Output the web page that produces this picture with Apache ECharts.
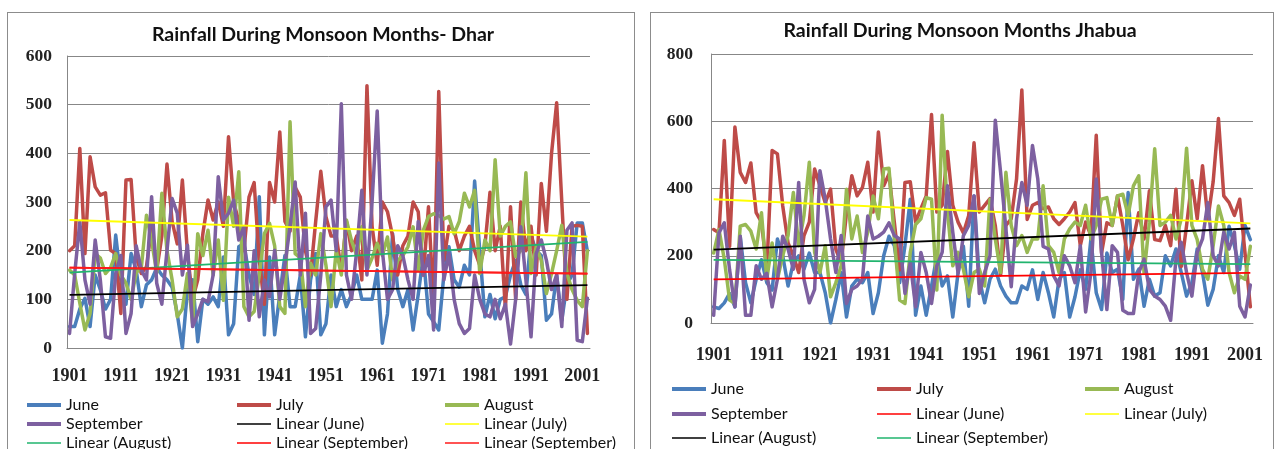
<!DOCTYPE html>
<html><head><meta charset="utf-8">
<script src="https://cdn.jsdelivr.net/npm/echarts@6/dist/echarts.min.js"></script>
<style>
html,body{margin:0;padding:0;background:#fff;width:1274px;height:449px;overflow:hidden;}
.box{position:absolute;border:1px solid #8c8c8c;box-sizing:border-box;}
#c1{position:absolute;left:0;top:0;width:640px;height:449px;}
#c2{position:absolute;left:640px;top:0;width:634px;height:449px;}
</style></head><body>
<div class="box" style="left:7px;top:12px;width:628px;height:460px;"></div>
<div class="box" style="left:650px;top:12px;width:624px;height:460px;"></div>
<div id="c1"></div><div id="c2"></div>
<script>
// categories
const years = [];
for (let y = 1901; y <= 2002; y++) years.push(String(y));

const seriesNames = ['June', 'July', 'August', 'September'];

// Dhar (mm)
const dharJune = [44,44,80,102,44,150,120,80,100,232,
140,90,194,160,85,130,140,165,150,140,
125,70,0,120,140,13,100,90,105,85,
187,27,50,208,215,150,110,311,27,187,
27,110,190,85,85,150,23,140,194,27,
50,150,85,120,85,110,150,100,100,100,
160,10,70,235,120,85,120,37,110,190,
70,54,37,150,208,140,125,170,150,343,
200,64,110,60,100,105,150,180,130,110,
230,200,190,57,70,150,57,130,150,257,
257,198];
const dharJuly = [200,210,410,194,393,331,314,319,201,194,
71,345,346,187,153,167,249,160,230,378,
260,214,345,194,100,140,235,304,263,300,
250,434,300,260,200,310,340,180,90,340,
300,444,260,240,330,310,200,150,260,363,
270,230,230,160,260,200,230,140,539,250,
170,300,280,230,150,210,230,300,280,150,
290,90,527,180,250,242,200,230,250,200,
170,210,320,200,250,80,290,100,300,200,
250,150,338,240,400,504,300,100,250,252,
250,30];
const dharAugust = [160,150,92,37,71,194,185,153,165,194,
150,133,100,155,165,273,220,155,318,200,
140,64,80,153,50,235,190,242,150,222,
98,310,250,362,85,64,75,150,235,256,
210,85,71,465,194,185,85,174,150,235,
170,85,201,150,263,220,190,249,160,185,
215,190,228,140,180,190,208,249,160,242,
270,276,272,265,270,235,260,318,290,324,
153,222,200,387,230,250,259,188,200,360,
153,208,180,112,153,200,252,153,120,98,
85,200];
const dharSeptember = [30,153,259,140,90,222,140,23,20,153,
190,30,71,210,160,140,311,133,90,200,
307,277,150,211,44,70,100,95,150,352,
263,277,304,222,249,57,200,64,140,105,
201,100,170,250,341,150,277,30,40,150,
290,304,200,502,150,100,200,324,150,300,
487,200,100,120,210,190,140,100,260,150,
190,37,380,140,194,100,50,30,40,150,
100,70,64,100,60,90,8,100,249,140,
23,194,222,180,120,150,44,242,257,16,
13,102];

// Jhabua (mm)
const jhabuaJune = [48,43,60,88,48,258,120,60,130,188,
120,98,250,200,110,180,200,160,208,150,
150,90,0,70,150,18,110,130,120,150,
28,90,200,258,230,120,230,368,23,110,
23,110,200,110,140,18,150,228,50,378,
130,60,130,160,110,80,60,60,110,100,
158,70,150,90,18,130,150,18,78,158,
100,250,90,40,208,150,160,70,388,130,
160,50,130,80,90,200,170,220,150,80,
120,220,150,53,100,200,150,288,230,160,
290,248];
const jhabuaJuly = [278,268,543,228,583,448,418,476,328,300,
158,513,503,348,238,200,150,260,300,458,
408,358,398,218,180,328,438,378,403,478,
330,568,408,443,300,158,418,420,300,340,
378,620,330,350,510,350,300,268,320,536,
330,350,370,290,143,290,310,428,693,308,
350,358,340,345,310,293,310,330,358,230,
300,260,558,208,298,290,378,290,188,250,
328,250,393,248,245,290,230,398,168,290,
423,310,468,308,420,608,378,358,320,368,
208,48];
const jhabuaAugust = [208,278,190,68,58,288,293,273,220,328,
130,238,130,200,260,388,230,320,478,210,
150,230,78,120,170,398,250,318,210,270,
378,310,458,460,250,68,58,210,293,310,
373,368,98,618,330,170,210,160,78,150,
160,110,368,250,150,448,290,230,260,210,
250,250,408,230,210,150,250,280,300,290,
350,250,290,368,373,290,378,383,320,408,
438,148,300,518,290,300,320,250,310,520,
290,248,160,130,230,348,290,150,90,140,
130,228];
const jhabuaSeptember = [23,268,298,158,48,258,23,23,170,130,
148,48,130,258,220,160,418,130,60,100,
453,368,250,150,260,58,100,110,130,318,
250,258,270,298,260,250,88,180,48,210,
150,58,170,210,408,270,148,260,290,378,
88,150,200,603,448,280,108,310,418,350,
528,428,228,220,140,110,200,170,120,230,
33,150,428,210,40,230,210,38,28,28,
150,190,100,80,70,50,8,190,240,150,
80,210,250,358,200,170,270,220,270,50,
18,113];

// linear trend lines, end values (first year, last year)
const dharTrendNames = ['Linear (June)', 'Linear (July)', 'Linear (August)', 'Linear (September)', 'Linear (September) #2'];
const dharTrendStart = [109, 263, 155, 165, 165];
const dharTrendEnd = [129, 229, 218, 153, 153];
const dharTrendColors = ['#000000', '#ffff00', '#21b46e', '#ff0000', '#ff1a1a'];

const jhabuaTrendNames = ['Linear (June)', 'Linear (July)', 'Linear (August)', 'Linear (September)'];
const jhabuaTrendStart = [130, 368, 218, 188];
const jhabuaTrendEnd = [149, 296, 281, 175];
const jhabuaTrendColors = ['#ff0000', '#ffff00', '#000000', '#21b46e'];

// y-axis ticks
const dharYMax = 600, dharYStep = 100;
const jhabuaYMax = 800, jhabuaYStep = 200;

const seriesColors = ['#4a7ebb', '#be4b48', '#98b954', '#7d60a0'];
const AX = '#878787';

function build(cfg) {
  const series = [];
  cfg.data.forEach((d, i) => {
    series.push({
      name: seriesNames[i], type: 'line', data: d, symbol: 'none', silent: true,
      color: seriesColors[i], z: 2,
      lineStyle: { width: 3.5, color: seriesColors[i], cap: 'round', join: 'round' }
    });
  });
  cfg.trendNames.forEach((n, k) => {
    const arr = years.map(() => null);
    arr[0] = cfg.trendStart[k];
    arr[arr.length - 1] = cfg.trendEnd[k];
    series.push({
      name: n, type: 'line', data: arr, connectNulls: true, symbol: 'none', silent: true,
      color: cfg.trendColors[k], z: 3,
      lineStyle: { width: 1.8, color: cfg.trendColors[k] }
    });
  });
  const legends = cfg.legendItems.map(it => ({
    data: [it.name], left: it.x, top: it.y - 9, icon: 'rect', itemWidth: 34,
    itemHeight: it.thick ? 4 : 1.5, padding: 0, selectedMode: false,
    formatter: n => n.replace(' #2', ''),
    textStyle: { fontFamily: 'Lato, "Liberation Sans", sans-serif', fontSize: 16, color: '#111', lineHeight: 18 }
  }));
  return {
    animation: false,
    graphic: [{
      type: 'text', x: cfg.titleX, y: cfg.titleY,
      style: { text: cfg.title, align: 'center', verticalAlign: 'middle',
        fontFamily: 'Lato, "Liberation Sans", sans-serif', fontWeight: 'bold', fontSize: 19.5, fill: '#111' }
    }],
    legend: legends,
    grid: cfg.grid,
    xAxis: {
      type: 'category', data: years, boundaryGap: true,
      axisLine: { lineStyle: { color: AX, width: 1 } },
      axisTick: { interval: 9, length: 5, lineStyle: { color: AX } },
      axisLabel: { interval: 9, margin: cfg.xMargin, fontFamily: '"Liberation Serif", serif', fontWeight: 'bold', fontSize: 18, color: '#222' },
      splitLine: { show: false }
    },
    yAxis: {
      type: 'value', min: 0, max: cfg.yMax, interval: cfg.yStep,
      axisLine: { show: true, lineStyle: { color: AX } },
      axisTick: { show: false },
      splitLine: { lineStyle: { color: AX, width: 1 } },
      axisLabel: { margin: cfg.yMargin, fontFamily: '"Liberation Serif", serif', fontWeight: 'bold', fontSize: 17.5, color: '#222' }
    },
    series: series
  };
}

const c1 = echarts.init(document.getElementById('c1'), null, { renderer: 'canvas' });
c1.setOption(build({
  title: 'Rainfall During Monsoon Months- Dhar', titleX: 323, titleY: 35,
  data: [dharJune, dharJuly, dharAugust, dharSeptember],
  trendNames: dharTrendNames, trendStart: dharTrendStart, trendEnd: dharTrendEnd, trendColors: dharTrendColors,
  grid: { left: 67, top: 56, width: 523, height: 292 },
  yMax: dharYMax, yStep: dharYStep, yMargin: 15, xMargin: 19,
  legendItems: [
    { name: 'June', x: 27, y: 405, thick: true },
    { name: 'July', x: 237, y: 405, thick: true },
    { name: 'August', x: 445, y: 405, thick: true },
    { name: 'September', x: 27, y: 424, thick: true },
    { name: 'Linear (June)', x: 237, y: 424 },
    { name: 'Linear (July)', x: 445, y: 424 },
    { name: 'Linear (August)', x: 27, y: 443 },
    { name: 'Linear (September)', x: 237, y: 443 },
    { name: 'Linear (September) #2', x: 445, y: 443 }
  ]
}));

const c2 = echarts.init(document.getElementById('c2'), null, { renderer: 'canvas' });
c2.setOption(build({
  title: 'Rainfall During Monsoon Months Jhabua', titleX: 320, titleY: 31,
  data: [jhabuaJune, jhabuaJuly, jhabuaAugust, jhabuaSeptember],
  trendNames: jhabuaTrendNames, trendStart: jhabuaTrendStart, trendEnd: jhabuaTrendEnd, trendColors: jhabuaTrendColors,
  grid: { left: 71, top: 54, width: 542, height: 269 },
  yMax: jhabuaYMax, yStep: jhabuaYStep, yMargin: 18, xMargin: 23,
  legendItems: [
    { name: 'June', x: 32, y: 389, thick: true },
    { name: 'July', x: 237, y: 389, thick: true },
    { name: 'August', x: 445, y: 389, thick: true },
    { name: 'September', x: 32, y: 414, thick: true },
    { name: 'Linear (June)', x: 237, y: 414 },
    { name: 'Linear (July)', x: 445, y: 414 },
    { name: 'Linear (August)', x: 32, y: 438 },
    { name: 'Linear (September)', x: 237, y: 438 }
  ]
}));
</script>
</body></html>
